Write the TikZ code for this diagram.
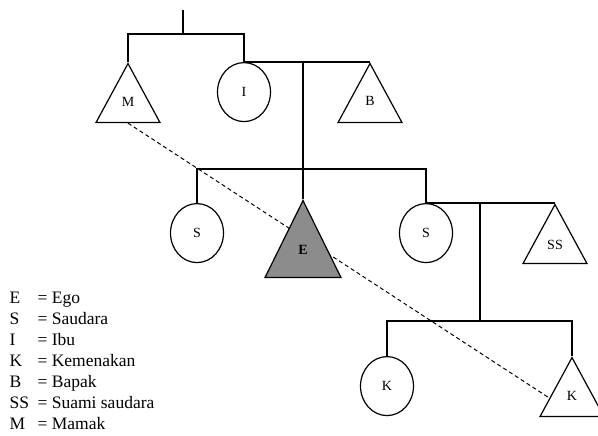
\documentclass[tikz,border=0pt]{standalone}
\usepackage{fontspec}
\setmainfont{Liberation Serif}
\usetikzlibrary{shapes.geometric}

\tikzset{
  female/.style={draw, ellipse, inner sep=0pt, minimum width=53pt, minimum height=59pt,
    font=\fontsize{14}{16}\selectfont},
  male/.style={draw, isosceles triangle, isosceles triangle stretches,
    shape border rotate=90, inner sep=0pt, minimum width=64pt, minimum height=59pt,
    anchor=apex, font=\fontsize{14}{16}\selectfont},
}
\newcommand\up[2][5pt]{\raisebox{#1}{#2}}

\begin{document}
\begin{tikzpicture}[x=1pt, y=-1pt, line width=1.2pt]
\useasboundingbox (0,0) rectangle (598,436);

% orang tua
\coordinate (top) at (183,10);
\coordinate (pm) at (183,34);
\node[male] (M) at (128,62) {\up{M}};
\node[female, anchor=north] (I) at (244,62) {I};
\node[male] (B) at (370,62) {\up{B}};

% saudara
\coordinate (ib) at (303,62);
\coordinate (sib) at (303,169);
\node[female, anchor=north] (S1) at (197,203) {S};
\node[female, anchor=north] (S2) at (426,203) {S};
\node[male] (SS) at (555,203) {\up[4pt]{SS}};

% kemenakan
\coordinate (ss) at (480,203);
\coordinate (kid) at (480,321);
\node[female, anchor=north] (K1) at (387,356) {K};
\node[male] (K2) at (572,356) {\up{K}};

\draw[dashed, dash pattern=on 4pt off 3pt, line width=1pt] (M.south) -- (K2.west);

\node[male, fill=black!45, minimum width=76pt, minimum height=77pt,
  font=\fontsize{14}{16}\selectfont\bfseries] (E) at (303,199) {\up[8pt]{E}};

\draw (top) -- (pm);
\draw (M.apex) |- (pm) -| (I.north);
\draw (I.north) -- (B.apex);
\draw (ib) -- (E.apex);
\draw (S1.north) |- (sib) -| (S2.north);
\draw (S2.north) -- (SS.apex);
\draw (ss) -- (kid);
\draw (K1.north) |- (kid) -| (K2.apex);

% keterangan
\node[anchor=base west, inner sep=0pt, font=\fontsize{17.5}{21}\selectfont] (legend) at (9,303.6)
  {\begin{tabular}[t]{@{}l@{}}
    \makebox[28pt][l]{E}= Ego\\
    \makebox[28pt][l]{S}= Saudara\\
    \makebox[28pt][l]{I}= Ibu\\
    \makebox[28pt][l]{K}= Kemenakan\\
    \makebox[28pt][l]{B}= Bapak\\
    \makebox[28pt][l]{SS}= Suami saudara\\
    \makebox[28pt][l]{M}= Mamak
  \end{tabular}};
\end{tikzpicture}
\end{document}
